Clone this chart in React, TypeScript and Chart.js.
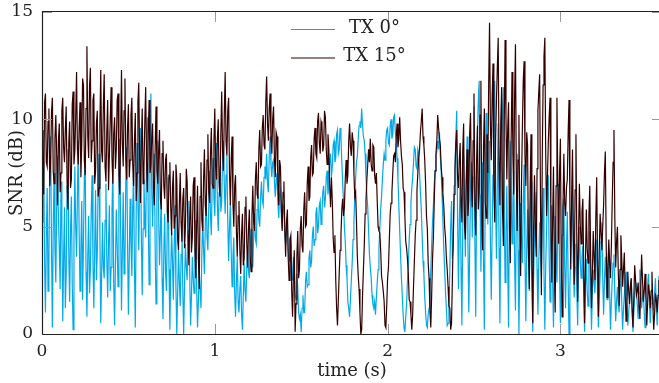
import { useEffect, useRef } from "react";
import { Chart, registerables } from "chart.js";

Chart.register(...registerables);

// sampling interval of the recorded traces (seconds)
const SAMPLE_STEP = 0.005;

const xTickValues = [0, 1, 2, 3];
const yTickValues = [0, 5, 10, 15];
const seriesLabels = ["TX 0°", "TX 15°"];
const xAxisTitle = "time (s)";
const yAxisTitle = "SNR (dB)";

// TX 0° SNR (dB), one value per 5 ms (20 values per row = 0.1 s)
const tx0 = [
  5.2, 7.1, 8.0, 3.3, 1.0, 4.5, 6.8, 2.0, 3.5, 7.7, 9.2, 4.1, 0.3, 5.0, 7.5, 3.9, 2.4, 6.1, 8.3, 5.5,
  4.0, 2.1, 7.1, 5.2, 0.6, 3.4, 5.9, 1.2, 2.8, 6.9, 8.6, 3.7, 1.5, 4.8, 6.4, 2.3, 0.2, 4.4, 7.8, 5.0,
  3.6, 6.5, 9.0, 4.7, 2.0, 3.9, 6.2, 1.6, 4.4, 7.3, 8.1, 2.9, 0.8, 3.6, 5.5, 1.9, 3.0, 5.8, 7.4, 3.3,
  1.2, 4.0, 6.7, 2.5, 3.8, 7.0, 8.4, 4.6, 0.5, 2.7, 5.2, 3.1, 2.6, 5.3, 7.0, 3.5, 1.7, 4.2, 6.0, 2.0,
  3.1, 5.6, 7.9, 2.4, 0.4, 3.2, 5.8, 4.1, 2.2, 6.7, 9.1, 5.0, 1.1, 3.9, 6.6, 2.8, 3.4, 7.1, 8.7, 4.3,
  0.9, 3.5, 6.3, 4.2, 2.7, 5.9, 7.6, 3.0, 0.3, 5.6, 8.9, 6.2, 3.9, 7.4, 9.6, 4.5, 1.8, 4.9, 7.2, 5.3,
  4.5, 8.2, 10.1, 5.4, 2.3, 7.5, 11.2, 6.9, 5.0, 7.1, 8.4, 3.8, 1.4, 6.3, 9.0, 5.7, 3.2, 4.7, 6.5, 2.6,
  0.7, 3.8, 5.6, 2.9, 2.0, 5.1, 7.3, 3.0, 0.2, 2.8, 4.8, 3.5, 1.6, 4.1, 6.0, 2.2, 0.0, 1.9, 3.9, 2.4,
  1.3, 3.7, 5.1, 1.9, 0.0, 2.3, 4.2, 3.1, 2.5, 4.8, 6.2, 2.7, 0.4, 1.8, 3.6, 2.6, 1.9, 4.0, 5.3, 2.2,
  0.3, 1.5, 3.0, 2.1, 1.2, 3.7, 5.4, 3.9, 2.8, 5.1, 6.5, 4.5, 3.9, 6.0, 7.6, 5.5, 4.6, 7.0, 8.2, 6.3,
  5.5, 7.6, 8.9, 6.0, 4.8, 6.6, 7.8, 5.7, 6.2, 8.1, 9.0, 6.9, 5.6, 7.4, 8.3, 5.2, 3.4, 5.0, 6.1, 3.8,
  2.2, 3.6, 4.5, 1.9, 0.8, 2.4, 3.6, 1.5, 1.0, 2.1, 2.7, 0.9, 0.2, 1.8, 3.3, 2.0, 1.5, 3.1, 4.0, 2.9,
  2.6, 4.1, 4.9, 3.5, 3.1, 4.7, 5.6, 4.4, 4.2, 5.8, 6.5, 5.3, 5.0, 6.4, 7.1, 6.2, 6.0, 7.3, 7.8, 7.2,
  8.4, 7.0, 6.6, 8.3, 9.2, 7.9, 7.3, 8.0, 8.1, 7.1, 6.4, 7.2, 7.5, 6.1, 5.4, 6.5, 6.7, 5.5, 4.9, 6.0,
  5.9, 4.6, 4.2, 5.3, 5.1, 3.9, 3.4, 4.5, 4.3, 3.0, 2.5, 3.6, 3.0, 1.9, 1.6, 2.8, 2.2, 1.0, 0.7, 0.9,
  0.1, 1.2, 1.8, 1.0, 1.0, 2.4, 2.9, 2.2, 2.3, 3.5, 3.9, 3.1, 3.4, 4.6, 5.0, 4.1, 4.4, 5.6, 5.9, 4.7,
  5.0, 6.0, 6.2, 5.1, 5.5, 6.6, 6.9, 5.9, 6.3, 7.3, 7.6, 6.5, 7.0, 8.1, 8.4, 7.3, 7.8, 8.8, 9.0, 8.0,
  8.2, 9.3, 9.5, 8.4, 8.6, 9.6, 9.2, 8.0, 7.0, 6.2, 5.0, 4.3, 3.2, 2.6, 1.5, 1.2, 0.8, 1.6, 2.5, 3.3,
  4.4, 5.2, 6.3, 7.3, 8.0, 8.3, 9.1, 9.7, 9.9, 9.6, 10.5, 9.7, 9.2, 9.0, 8.4, 7.3, 6.5, 5.9, 4.8, 3.7,
  3.1, 2.6, 1.8, 1.4, 1.2, 1.5, 0.9, 1.7, 2.4, 3.0, 4.0, 4.9, 5.8, 6.4, 7.2, 7.9, 8.4, 8.1, 9.0, 9.5,
  9.6, 8.9, 8.8, 9.7, 10.0, 9.1, 9.3, 10.1, 10.2, 9.4, 9.0, 8.2, 7.2, 6.0, 4.8, 3.7, 2.6, 1.8, 0.9, 0.3,
  0.1, 0.8, 1.4, 2.5, 3.2, 4.4, 5.1, 6.1, 6.8, 7.3, 8.0, 8.7, 8.6, 7.8, 7.7, 8.6, 8.4, 7.5, 6.6, 5.8,
  4.6, 3.4, 2.8, 1.7, 1.0, 0.4, 0.3, 0.9, 1.2, 2.2, 3.0, 4.1, 5.2, 6.0, 7.0, 7.6, 8.3, 8.5, 9.0, 8.6,
  9.4, 8.3, 7.6, 6.5, 5.3, 4.0, 3.1, 2.0, 1.2, 0.4, 0.5, 1.6, 2.9, 5.0, 6.2, 3.5, 4.0, 6.9, 7.8, 9.2,
  10.4, 5.5, 2.1, 5.0, 7.5, 3.1, 0.4, 4.9, 8.3, 5.8, 3.6, 7.0, 9.2, 4.2, 1.0, 3.9, 6.8, 8.0, 4.5, 7.3,
  10.6, 4.4, 0.8, 6.2, 9.4, 10.9, 11.8, 6.5, 2.9, 5.8, 8.0, 3.4, 0.2, 6.6, 10.3, 8.1, 5.1, 7.7, 9.0, 4.3,
  1.6, 4.8, 7.4, 10.0, 11.8, 6.2, 3.5, 7.1, 9.8, 4.0, 0.5, 5.2, 8.7, 10.4, 11.5, 5.5, 2.4, 4.6, 6.9, 3.2,
  0.3, 5.9, 9.0, 6.5, 4.2, 6.1, 7.6, 3.4, 1.1, 5.8, 8.4, 3.9, 0.0, 3.5, 6.1, 4.4, 3.3, 6.2, 7.9, 3.6,
  0.6, 3.9, 5.8, 3.6, 2.0, 5.4, 7.1, 2.8, 0.1, 2.6, 4.5, 5.7, 6.6, 3.0, 0.9, 3.4, 5.2, 3.8, 2.7, 5.1,
  6.8, 2.9, 0.2, 3.1, 4.9, 6.6, 7.4, 3.6, 1.5, 4.3, 6.0, 2.5, 0.3, 3.4, 5.5, 3.7, 2.4, 5.3, 7.0, 3.1,
  0.5, 2.8, 4.6, 5.9, 6.3, 3.0, 1.2, 3.9, 5.7, 2.4, 0.0, 2.2, 3.8, 5.4, 6.5, 3.3, 1.7, 3.1, 4.2, 2.0,
  0.4, 3.1, 5.0, 3.4, 2.6, 3.6, 4.1, 1.7, 0.1, 2.2, 3.5, 2.0, 1.3, 3.3, 4.8, 2.1, 0.2, 1.9, 3.0, 2.4,
  1.9, 3.5, 4.4, 1.8, 0.3, 1.6, 2.7, 4.3, 5.2, 2.6, 0.9, 2.5, 3.6, 2.4, 1.6, 3.1, 4.0, 1.9, 0.2, 1.5,
  2.5, 3.3, 3.7, 1.9, 0.6, 1.5, 2.2, 1.4, 1.0, 2.3, 3.1, 1.5, 0.2, 1.1, 1.8, 2.5, 2.9, 1.4, 0.4, 1.0,
  1.5, 2.2, 2.6, 1.2, 0.1, 1.0, 1.9, 2.2, 2.3, 1.4, 0.7, 1.9, 3.0, 2.0, 1.2, 1.7, 2.0, 1.0, 0.3, 0.9,
  1.6, 2.3, 2.8, 1.5, 0.5, 1.4, 2.1, 1.6, 1.1, 1.9, 2.6, 1.3, 0.4, 1.7, 2.7, 2.5,
];

// TX 15° SNR (dB), one value per 5 ms (20 values per row = 0.1 s)
const tx15 = [
  9.5, 7.2, 6.5, 10.8, 11.2, 8.0, 7.8, 9.9, 10.5, 6.9, 8.2, 10.3, 11.0, 7.6, 7.0, 9.1, 10.2, 8.4, 6.0, 9.0,
  9.8, 6.6, 7.5, 10.4, 11.0, 8.7, 8.0, 9.5, 10.6, 7.1, 5.8, 8.9, 9.9, 6.8, 7.2, 10.7, 11.3, 7.9, 8.5, 10.1,
  12.2, 8.6, 7.9, 9.6, 10.8, 7.3, 8.8, 11.9, 11.6, 8.1, 7.4, 10.5, 13.4, 9.2, 8.2, 11.5, 12.4, 8.0, 9.0, 10.9,
  11.2, 7.0, 7.6, 9.8, 10.4, 6.4, 6.8, 9.7, 12.3, 8.5, 8.0, 10.6, 12.1, 7.8, 7.1, 9.4, 10.9, 6.7, 8.3, 10.0,
  11.5, 8.2, 7.0, 9.3, 10.1, 7.7, 8.6, 10.9, 11.2, 7.4, 6.5, 9.2, 12.3, 8.9, 7.8, 10.4, 11.9, 8.1, 7.2, 9.6,
  10.7, 7.3, 8.1, 10.2, 11.0, 7.9, 6.9, 9.0, 10.3, 6.2, 7.5, 10.8, 11.7, 8.3, 6.1, 8.8, 10.5, 7.0, 7.7, 9.9,
  11.5, 8.0, 6.6, 9.4, 10.9, 7.5, 7.9, 9.1, 9.8, 6.8, 6.0, 8.7, 10.6, 7.6, 7.0, 8.5, 9.5, 6.3, 5.8, 8.4,
  9.0, 6.9, 6.3, 8.1, 8.4, 5.7, 5.2, 7.4, 8.0, 5.9, 4.6, 6.8, 7.6, 4.9, 5.5, 7.9, 7.2, 4.4, 3.9, 6.1,
  7.5, 5.2, 4.3, 6.3, 6.8, 4.0, 5.0, 7.7, 7.1, 4.6, 3.2, 5.4, 6.4, 3.8, 4.5, 6.9, 7.3, 4.1, 2.6, 5.1,
  6.9, 3.5, 2.1, 6.4, 8.0, 5.3, 4.8, 7.2, 8.6, 6.0, 5.5, 8.1, 9.3, 6.6, 6.1, 8.4, 9.6, 7.0, 6.8, 9.0,
  10.5, 7.8, 7.2, 9.1, 10.0, 7.0, 6.4, 9.4, 11.3, 8.5, 7.6, 10.2, 12.2, 9.0, 8.3, 10.4, 11.0, 7.5, 6.0, 8.1,
  9.2, 6.1, 5.0, 6.9, 7.4, 4.8, 3.6, 5.5, 6.2, 3.9, 2.8, 4.7, 5.6, 3.2, 3.5, 5.9, 6.4, 4.2, 3.1, 4.9,
  5.8, 3.6, 2.9, 5.5, 6.9, 5.2, 4.8, 7.2, 8.0, 6.5, 6.3, 8.6, 9.5, 7.8, 7.9, 9.6, 10.2, 8.8, 8.6, 10.8,
  12.0, 9.8, 9.0, 10.5, 11.2, 9.1, 8.4, 10.0, 10.6, 8.2, 7.3, 9.4, 9.2, 7.0, 6.0, 8.1, 7.8, 5.9, 4.8, 6.6,
  7.1, 4.9, 3.6, 5.2, 5.8, 3.5, 2.5, 4.4, 4.6, 2.0, 0.8, 2.7, 3.9, 0.1, 1.4, 3.6, 4.8, 2.6, 3.0, 4.9,
  5.5, 4.1, 3.8, 5.8, 6.6, 5.0, 5.1, 7.0, 7.8, 6.2, 6.4, 8.2, 8.8, 7.4, 7.5, 9.1, 9.6, 8.4, 8.2, 9.9,
  10.3, 8.9, 8.4, 9.9, 9.7, 8.5, 8.8, 10.4, 10.1, 8.6, 7.9, 9.3, 8.6, 6.9, 5.9, 7.3, 6.2, 4.5, 3.8, 4.6,
  2.5, 1.2, 0.4, 1.6, 2.8, 3.9, 4.6, 5.8, 6.3, 5.5, 5.9, 7.2, 8.1, 7.0, 7.4, 9.0, 9.8, 8.7, 8.3, 9.4,
  9.0, 7.5, 6.4, 6.6, 5.2, 3.6, 2.7, 2.1, 1.0, 0.0, 0.2, 1.8, 3.0, 4.1, 5.6, 6.2, 7.2, 7.9, 8.6, 8.0,
  9.1, 7.9, 7.6, 8.8, 8.7, 7.4, 7.0, 7.5, 6.2, 5.0, 4.8, 4.7, 3.9, 2.7, 2.4, 2.0, 1.5, 0.4, 0.3, 1.3,
  2.6, 3.1, 4.4, 5.6, 6.1, 6.6, 7.5, 8.3, 8.4, 8.0, 9.2, 9.8, 8.7, 9.1, 10.1, 9.0, 8.3, 7.9, 6.8, 6.6,
  5.5, 4.3, 4.0, 3.5, 2.8, 1.6, 1.5, 0.9, 0.2, 0.9, 2.2, 3.4, 4.6, 5.3, 6.7, 7.5, 8.2, 8.6, 9.4, 9.9,
  10.5, 9.2, 8.8, 8.1, 7.0, 5.5, 4.9, 3.3, 2.6, 1.1, 0.3, 1.8, 3.5, 4.5, 6.2, 7.6, 8.4, 9.0, 10.2, 9.6,
  9.1, 8.8, 7.8, 7.3, 6.5, 6.0, 5.0, 4.5, 3.6, 3.0, 2.2, 1.3, 1.2, 0.2, 0.5, 2.6, 4.5, 6.5, 7.6, 8.9,
  9.5, 7.3, 6.8, 8.1, 8.9, 6.0, 5.2, 8.6, 9.8, 5.1, 4.4, 7.0, 8.6, 5.5, 6.3, 9.4, 10.3, 6.7, 5.9, 9.0,
  11.2, 6.1, 4.6, 8.0, 9.7, 5.8, 6.6, 10.2, 11.8, 5.3, 3.9, 8.7, 10.5, 6.2, 5.4, 9.3, 7.5, 11.6, 14.5, 9.7,
  8.1, 11.0, 12.6, 6.9, 5.2, 9.1, 10.9, 12.4, 13.8, 8.0, 6.0, 9.9, 11.5, 5.8, 4.1, 9.6, 13.7, 10.1, 7.2, 9.5,
  10.8, 5.0, 3.3, 9.0, 12.2, 8.4, 6.5, 11.0, 13.5, 7.3, 4.8, 8.1, 10.2, 5.2, 2.7, 7.0, 9.6, 11.8, 12.7, 8.3,
  6.9, 9.4, 8.8, 4.0, 2.1, 6.8, 9.3, 3.2, 0.5, 4.9, 7.4, 5.0, 3.6, 7.7, 10.4, 11.3, 12.1, 6.0, 1.8, 8.2,
  11.6, 12.9, 13.8, 8.4, 5.5, 7.3, 8.9, 10.1, 11.0, 5.0, 2.4, 5.2, 7.8, 3.1, 1.0, 6.9, 11.0, 7.0, 4.2, 7.5,
  9.1, 3.4, 0.8, 5.9, 8.4, 6.1, 5.5, 6.8, 7.2, 9.4, 10.9, 6.0, 3.0, 6.4, 8.6, 4.5, 2.3, 6.7, 9.3, 4.4,
  1.5, 4.6, 7.0, 5.1, 4.2, 5.7, 6.3, 2.9, 0.5, 3.4, 5.8, 4.0, 3.3, 5.5, 6.9, 3.7, 1.2, 2.8, 4.8, 3.6,
  2.5, 5.4, 7.3, 3.5, 0.8, 3.9, 5.6, 4.7, 3.9, 5.0, 6.0, 7.5, 8.5, 4.2, 1.7, 3.0, 4.4, 3.3, 2.6, 4.1,
  6.2, 8.0, 9.5, 5.4, 3.1, 4.3, 5.0, 2.9, 1.3, 3.0, 4.6, 3.5, 2.2, 3.0, 3.8, 1.9, 0.6, 1.5, 2.9, 2.0,
  1.4, 2.2, 2.6, 1.1, 0.3, 1.7, 3.2, 2.5, 1.8, 2.0, 2.4, 1.3, 0.7, 2.1, 3.7, 2.6, 1.5, 2.0, 2.8, 1.6,
  0.4, 1.5, 2.3, 1.9, 1.2, 2.0, 2.9, 1.4, 0.2, 0.9, 1.9, 1.6, 1.0, 1.8, 2.5, 1.3,
];

const COLOR_TX0 = "#00A9E8";
const COLOR_TX15 = "#330000";
const FONT_FAMILY = '"DejaVu Serif", serif';
const TEXT_COLOR = "#222222";
const CANVAS_W = 665;
const CANVAS_H = 383;

export default function App() {
  const canvasRef = useRef<HTMLCanvasElement | null>(null);

  useEffect(() => {
    document.body.style.margin = "0";
    const canvas = canvasRef.current;
    if (!canvas) return;

    const toPoints = (arr: number[]) =>
      arr.map((v, i) => ({ x: i * SAMPLE_STEP, y: v }));

    const framePlugin = {
      id: "pgfFrame",
      afterDatasetsDraw(chart: any) {
        const { ctx, chartArea, scales } = chart;
        const { left, right, top, bottom } = chartArea;
        const xs = scales.x;
        const ys = scales.y;
        ctx.save();
        ctx.strokeStyle = "#9a9a9a";
        ctx.lineWidth = 1;
        ctx.beginPath();
        const tl = 10;
        yTickValues.forEach((v) => {
          const p = Math.round(ys.getPixelForValue(v)) + 0.5;
          ctx.moveTo(left, p);
          ctx.lineTo(left + tl, p);
          ctx.moveTo(right, p);
          ctx.lineTo(right - tl, p);
        });
        xTickValues.forEach((v) => {
          const p = Math.round(xs.getPixelForValue(v)) + 0.5;
          ctx.moveTo(p, bottom);
          ctx.lineTo(p, bottom - tl);
          ctx.moveTo(p, top);
          ctx.lineTo(p, top + tl);
        });
        ctx.stroke();
        ctx.strokeStyle = "#222222";
        ctx.lineWidth = 1.2;
        ctx.beginPath();
        ctx.moveTo(left + 0.5, bottom + 0.5);
        ctx.lineTo(left + 0.5, top - 0.5);
        ctx.lineTo(right, top - 0.5);
        ctx.moveTo(left + 0.5, bottom + 0.5);
        ctx.lineTo(right, bottom + 0.5);
        ctx.stroke();
        ctx.restore();
      },
    };

    const legendPlugin = {
      id: "pgfLegend",
      afterDraw(chart: any) {
        const { ctx } = chart;
        const colors = [COLOR_TX0, COLOR_TX15];
        const rowsY = [29.5, 58];
        ctx.save();
        ctx.font = `18px ${FONT_FAMILY}`;
        ctx.textAlign = "center";
        ctx.textBaseline = "middle";
        seriesLabels.forEach((label, i) => {
          const y = rowsY[i];
          ctx.strokeStyle = colors[i];
          ctx.lineWidth = 1.2;
          ctx.beginPath();
          ctx.moveTo(291, y);
          ctx.lineTo(335, y);
          ctx.stroke();
          ctx.fillStyle = TEXT_COLOR;
          ctx.fillText(label, 374.5, y - 1.5);
        });
        ctx.restore();
      },
    };

    const chart = new Chart(canvas, {
      type: "line",
      data: {
        datasets: [
          {
            label: seriesLabels[0],
            data: toPoints(tx0),
            borderColor: COLOR_TX0,
            borderWidth: 1.2,
            pointRadius: 0,
            tension: 0,
            order: 2,
          },
          {
            label: seriesLabels[1],
            data: toPoints(tx15),
            borderColor: COLOR_TX15,
            borderWidth: 1.2,
            pointRadius: 0,
            tension: 0,
            order: 1,
          },
        ],
      },
      options: {
        responsive: false,
        animation: false,
        devicePixelRatio: 1,
        layout: { padding: { top: 12, right: 3, left: 0, bottom: 0 } },
        plugins: {
          legend: { display: false },
          tooltip: { enabled: false },
        },
        scales: {
          x: {
            type: "linear",
            min: 0,
            max: 3.588,
            afterBuildTicks: (s: any) => {
              s.ticks = xTickValues.map((v) => ({ value: v }));
            },
            afterFit: (s: any) => {
              s.height = 49;
              s.paddingLeft = 0;
              s.paddingRight = 0;
            },
            grid: { display: false, drawTicks: false },
            border: { display: false },
            ticks: {
              padding: 7,
              maxRotation: 0,
              autoSkip: false,
              color: TEXT_COLOR,
              font: { family: FONT_FAMILY, size: 17 },
              callback: (v: any) => String(v),
            },
            title: {
              display: true,
              text: xAxisTitle,
              color: TEXT_COLOR,
              font: { family: FONT_FAMILY, size: 18 },
              padding: { top: 0, bottom: 1 },
            },
          },
          y: {
            type: "linear",
            min: 0,
            max: 15,
            afterBuildTicks: (s: any) => {
              s.ticks = yTickValues.map((v) => ({ value: v }));
            },
            afterFit: (s: any) => {
              s.width = 42;
              s.paddingTop = 0;
              s.paddingBottom = 0;
            },
            grid: { display: false, drawTicks: false },
            border: { display: false },
            ticks: {
              padding: 9,
              autoSkip: false,
              color: TEXT_COLOR,
              font: { family: FONT_FAMILY, size: 17 },
              callback: (v: any) => String(v),
            },
            title: {
              display: true,
              text: yAxisTitle,
              color: TEXT_COLOR,
              font: { family: FONT_FAMILY, size: 18 },
              padding: { top: 7, bottom: 0 },
            },
          },
        },
      },
      plugins: [framePlugin, legendPlugin],
    });

    return () => chart.destroy();
  }, []);

  return (
    <div
      style={{
        position: "fixed",
        left: 0,
        top: 0,
        width: 659,
        height: 383,
        overflow: "hidden",
        background: "#ffffff",
      }}
    >
      <canvas
        ref={canvasRef}
        width={CANVAS_W}
        height={CANVAS_H}
        style={{ width: CANVAS_W, height: CANVAS_H, display: "block" }}
      />
    </div>
  );
}
